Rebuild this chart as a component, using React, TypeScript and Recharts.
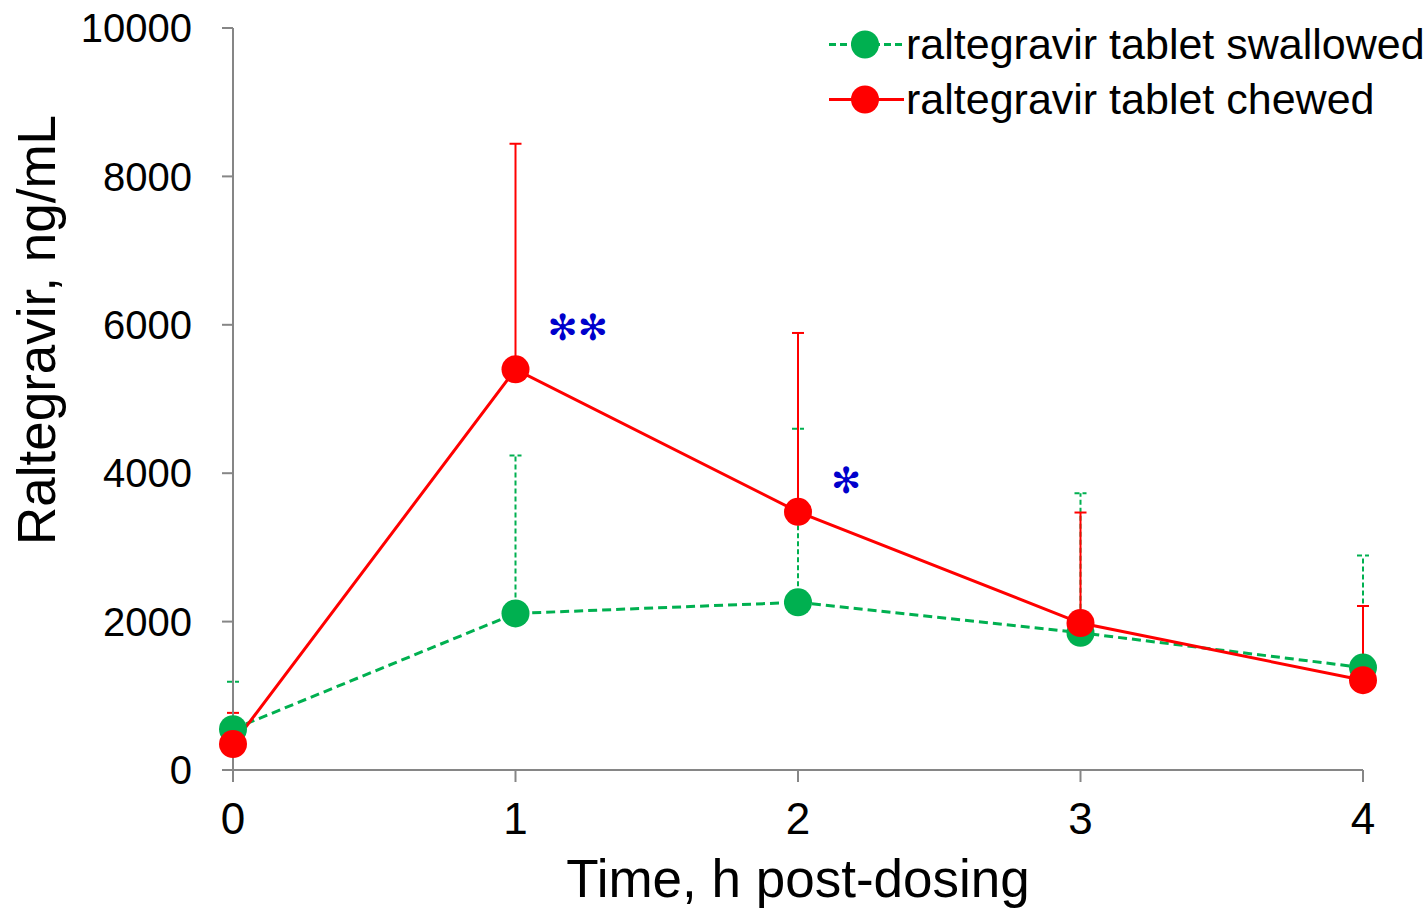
import React from 'react';
import { LineChart, Line, XAxis, YAxis, ErrorBar, Legend, ReferenceDot } from 'recharts';

const times = [0, 1, 2, 3, 4];
const swallowedMean = [550, 2110, 2260, 1850, 1380];
const swallowedSD = [640, 2130, 2340, 1880, 1510];
const chewedMean = [350, 5400, 3480, 1980, 1210];
const chewedSD = [420, 3040, 2410, 1490, 1000];
const yTicks = [0, 2000, 4000, 6000, 8000, 10000];
const xTicks = [0, 1, 2, 3, 4];
const seriesNames = ['raltegravir tablet swallowed', 'raltegravir tablet chewed'];
const xTitle = 'Time, h post-dosing';
const yTitle = 'Raltegravir, ng/mL';
const annotationX = [1.22, 2.17];
const annotationY = [5970, 3910];
const annotationText = ['\u273B\u273B', '\u273B'];

const GREEN = '#00B050';
const RED = '#FF0000';
const AXIS = '#868686';
const FONT = '"Liberation Sans", Arial, sans-serif';

const data = times.map((t, i) => ({
  t,
  sw: swallowedMean[i],
  swErr: [0, swallowedSD[i]],
  ch: chewedMean[i],
  chErr: [0, chewedSD[i]],
}));

const legendItems = [
  { name: seriesNames[0], color: GREEN, dash: '7 4' },
  { name: seriesNames[1], color: RED, dash: undefined },
];

const renderLegend = () => (
  <div style={{ fontFamily: FONT, fontSize: 43, color: '#000' }}>
    {legendItems.map((it) => (
      <div key={it.name} style={{ display: 'flex', alignItems: 'center', height: 55, whiteSpace: 'nowrap' }}>
        <svg width={78} height={55} style={{ display: 'block' }}>
          <line x1={1} x2={76} y1={27.5} y2={27.5} stroke={it.color} strokeWidth={3} strokeDasharray={it.dash} />
          <circle cx={37} cy={27.5} r={14} fill={it.color} />
        </svg>
        <span style={{ lineHeight: '55px' }}>{it.name}</span>
      </div>
    ))}
  </div>
);

const YTitle = (props: any) => {
  const vb = props.viewBox || { x: 0, y: 0, height: 0 };
  const cx = 55;
  const cy = vb.y + 302;
  return (
    <text
      x={cx}
      y={cy}
      transform={`rotate(-90, ${cx}, ${cy})`}
      textAnchor="middle"
      fontFamily={FONT}
      fontSize={53}
      fill="#000"
    >
      {yTitle}
    </text>
  );
};

export default function App() {
  return (
    <div style={{ position: 'absolute', left: 0, top: 0, background: '#fff' }}>
      <LineChart
        width={1426}
        height={911}
        data={data}
        margin={{ top: 28, right: 63, left: 0, bottom: 0 }}
      >
        <XAxis
          dataKey="t"
          type="number"
          domain={[0, 4]}
          ticks={xTicks}
          height={141}
          stroke={AXIS}
          strokeWidth={2}
          tickSize={12}
          tickMargin={21}
          tick={{ fill: '#000', fontSize: 44, fontFamily: FONT }}
          label={{ value: xTitle, position: 'insideBottom', offset: 14, fill: '#000', fontSize: 53, fontFamily: FONT }}
        />
        <YAxis
          type="number"
          domain={[0, 10000]}
          ticks={yTicks}
          width={233}
          stroke={AXIS}
          strokeWidth={2}
          tickSize={11}
          tickMargin={30}
          tick={{ fill: '#000', fontSize: 40, fontFamily: FONT }}
          label={<YTitle />}
        />
        <Legend
          layout="vertical"
          align="center"
          verticalAlign="middle"
          content={renderLegend}
          wrapperStyle={{ position: 'absolute', left: 828, top: 17, width: 'auto', height: 'auto' }}
        />
        <Line
          dataKey="sw"
          name={seriesNames[0]}
          stroke={GREEN}
          strokeWidth={3}
          strokeDasharray="9 5"
          dot={{ r: 14, fill: GREEN, stroke: 'none', strokeDasharray: '' }}
          activeDot={false}
          isAnimationActive={false}
        >
          <ErrorBar dataKey="swErr" direction="y" width={6} stroke={GREEN} strokeWidth={2} strokeDasharray="5 3" isAnimationActive={false} />
        </Line>
        <Line
          dataKey="ch"
          name={seriesNames[1]}
          stroke={RED}
          strokeWidth={3}
          dot={{ r: 14, fill: RED, stroke: 'none' }}
          activeDot={false}
          isAnimationActive={false}
        >
          <ErrorBar dataKey="chErr" direction="y" width={6} stroke={RED} strokeWidth={2} isAnimationActive={false} />
        </Line>
        {annotationX.map((x, i) => (
          <ReferenceDot
            key={i}
            x={x}
            y={annotationY[i]}
            r={0}
            fill="none"
            stroke="none"
            label={{ value: annotationText[i], position: 'center', fill: '#0000CC', fontSize: 36, fontFamily: '"DejaVu Sans", sans-serif' }}
          />
        ))}
      </LineChart>
    </div>
  );
}
